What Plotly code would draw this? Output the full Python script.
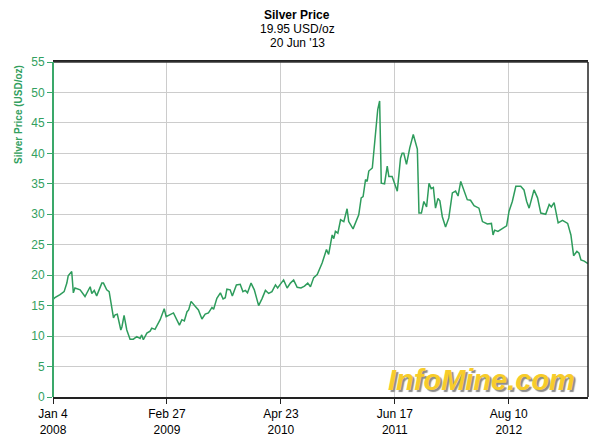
import pandas as pd
import plotly.graph_objects as go

# ---- data ----
start_date = "2008-01-04"
# days elapsed since start_date for each sampled point
day_offsets = [
    0, 7, 26, 41, 51, 56, 69, 75, 81, 100, 118, 137, 143, 152, 161, 180, 186, 198, 207,
    223, 229, 237, 250, 254, 262, 272, 284, 296, 309, 321, 327, 333, 346, 358, 364, 376,
    395, 410, 417, 432, 444, 466, 475, 484, 494, 500, 509, 524, 536, 549, 561, 573, 586,
    592, 604, 617, 627, 635, 641, 653, 661, 676, 690, 700, 709, 717, 730, 742, 758, 771,
    783, 795, 807, 820, 828, 841, 850, 863, 875, 887, 900, 914, 927, 939, 949, 961, 974,
    992, 1008, 1016, 1029, 1035, 1041, 1050, 1060, 1072, 1084, 1090, 1106, 1127, 1136,
    1143, 1152, 1158, 1164, 1177, 1189, 1197, 1204, 1210, 1222, 1232, 1238, 1250, 1269,
    1281, 1287, 1293, 1303, 1315, 1328, 1343, 1349, 1358, 1367, 1377, 1386, 1394, 1402,
    1410, 1419, 1426, 1435, 1447, 1459, 1472, 1484, 1493, 1503, 1511, 1527, 1539, 1552,
    1570, 1583, 1601, 1616, 1622, 1628, 1640, 1657, 1672, 1681, 1693, 1706, 1724, 1736,
    1746, 1755, 1764, 1773, 1786, 1798, 1816, 1829, 1837, 1847, 1862, 1878, 1897, 1909,
    1919, 1931, 1939, 1946, 1958, 1972,
]
prices = [
    16.0, 16.3, 16.8, 17.3, 18.7, 19.9, 20.6, 17.1, 17.9, 17.6, 16.5, 18.1, 17.0, 17.5,
    16.6, 18.7, 18.7, 17.6, 17.3, 13.0, 13.5, 13.6, 11.0, 11.5, 13.4, 11.0, 9.5, 9.5,
    9.9, 9.6, 10.2, 9.4, 10.5, 10.8, 11.3, 11.1, 12.7, 14.5, 13.2, 13.5, 13.8, 11.8,
    12.7, 12.5, 14.0, 14.3, 15.7, 14.9, 14.3, 12.8, 13.6, 13.8, 14.7, 14.4, 16.2, 17.1,
    16.1, 16.3, 17.7, 17.6, 16.6, 18.4, 18.5, 17.3, 17.5, 17.1, 18.7, 17.6, 15.0, 16.2,
    17.5, 17.0, 17.3, 18.4, 17.9, 18.7, 19.2, 17.9, 18.7, 19.2, 18.0, 17.9, 18.2, 18.7,
    18.1, 19.6, 20.1, 22.0, 24.2, 23.4, 26.6, 26.0, 27.2, 26.9, 29.1, 28.8, 30.9, 28.8,
    27.6, 29.9, 32.7, 32.9, 35.7, 35.4, 37.1, 37.6, 42.8, 47.2, 48.6, 35.1, 35.0, 37.9,
    36.2, 36.2, 33.8, 39.2, 40.0, 40.0, 38.2, 40.9, 43.1, 40.7, 30.2, 30.2, 32.1, 31.2,
    35.1, 34.2, 34.4, 31.0, 32.6, 32.2, 29.6, 27.9, 29.4, 33.5, 33.8, 33.0, 35.4, 34.3,
    32.4, 32.3, 31.4, 31.0, 28.8, 28.4, 28.5, 26.6, 27.4, 27.2, 27.7, 28.1, 30.5, 32.1,
    34.6, 34.6, 34.0, 32.1, 31.0, 32.4, 34.0, 32.7, 30.2, 30.0, 31.6, 31.2, 31.9, 28.6,
    29.0, 28.5, 26.6, 23.2, 23.9, 23.6, 22.5, 22.3, 21.9,
]
tick_dates = ["2008-01-04", "2009-02-27", "2010-04-23", "2011-06-17", "2012-08-10"]
tick_labels = ["Jan 4<br>2008", "Feb 27<br>2009", "Apr 23<br>2010", "Jun 17<br>2011", "Aug 10<br>2012"]
y_ticks = list(range(0, 56, 5))

title_lines = ["<b>Silver Price</b>", "19.95 USD/oz", "20 Jun '13"]

dates = pd.to_datetime(start_date) + pd.to_timedelta(day_offsets, unit="D")

GREEN_LINE = "#2e9c5c"
GREEN_AXIS = "#3aa86a"
GREEN_TEXT = "#33a060"
FONT = "Liberation Sans, Arial, sans-serif"

# the page body adds an 8px offset; figure is sized to fill the 600x442 window
OFF = 8
FIG_W, FIG_H = 600 - OFF, 442 - OFF
# plot area on screen
SX0, SX1, SY0, SY1 = 53, 588, 62, 397
L, R, T, B = SX0 - OFF, 600 - SX1, SY0 - OFF, 442 - SY1
PW, PH = SX1 - SX0, SY1 - SY0


def px(sx):
    return (sx - SX0) / PW


def py(sy):
    return (SY1 - sy) / PH


fig = go.Figure()
fig.add_trace(go.Scatter(
    x=dates, y=prices, mode="lines",
    line=dict(color=GREEN_LINE, width=1.5),
    hoverinfo="x+y", showlegend=False,
))

fig.update_layout(
    width=FIG_W, height=FIG_H,
    margin=dict(l=L, r=R, t=T, b=B, autoexpand=False),
    paper_bgcolor="white", plot_bgcolor="white",
    font=dict(family=FONT, size=12, color="black"),
    showlegend=False,
)

fig.update_xaxes(
    automargin=False,
    range=[dates[0], dates[-1]],
    tickmode="array", tickvals=pd.to_datetime(tick_dates), ticktext=tick_labels,
    showgrid=True, gridcolor="#cccccc", gridwidth=1,
    showline=True, linecolor="#222222", linewidth=1.5, mirror=True,
    ticks="outside", ticklen=5, tickcolor="#222222",
    tickfont=dict(size=12, color="black", family=FONT),
    zeroline=False,
)
fig.update_yaxes(
    automargin=False,
    range=[0, 55],
    tickmode="array", tickvals=y_ticks,
    showgrid=True, gridcolor="#cccccc", gridwidth=1,
    showline=False,
    ticks="outside", ticklen=5, tickcolor=GREEN_AXIS,
    tickfont=dict(size=12, color=GREEN_TEXT, family=FONT),
    zeroline=False,
)

# frame: dark top/right, green left axis line
fig.add_shape(type="line", xref="paper", yref="paper", x0=0, x1=1, y0=1, y1=1,
              line=dict(color="#333333", width=1.5))
fig.add_shape(type="line", xref="paper", yref="paper", x0=1, x1=1, y0=0, y1=1,
              line=dict(color="#222222", width=1.5))
fig.add_shape(type="line", xref="paper", yref="paper", x0=0, x1=0, y0=0, y1=1,
              line=dict(color=GREEN_AXIS, width=2))

# Title lines
for txt, ypos in zip(title_lines, [15, 29, 43]):
    fig.add_annotation(
        text=txt, xref="paper", yref="paper",
        x=px(297), y=py(ypos),
        xanchor="center", yanchor="middle", showarrow=False,
        font=dict(size=12, color="black", family=FONT),
    )

# Y axis title
fig.add_annotation(
    text="<b>Silver Price (USD/oz)</b>", xref="paper", yref="paper",
    x=px(19), y=py(115),
    xanchor="center", yanchor="middle", textangle=-90, showarrow=False,
    font=dict(size=10, color=GREEN_TEXT, family=FONT),
)

# Watermark logo
fig.add_annotation(
    text="<b><i>InfoMine.com</i></b>", xref="paper", yref="paper",
    x=px(481), y=py(380),
    xanchor="center", yanchor="middle", showarrow=False,
    font=dict(size=29, color="#f7cc2a", family=FONT, shadow="2px 2px 1px #8c8c8c"),
)

fig.write_html("out.html")
